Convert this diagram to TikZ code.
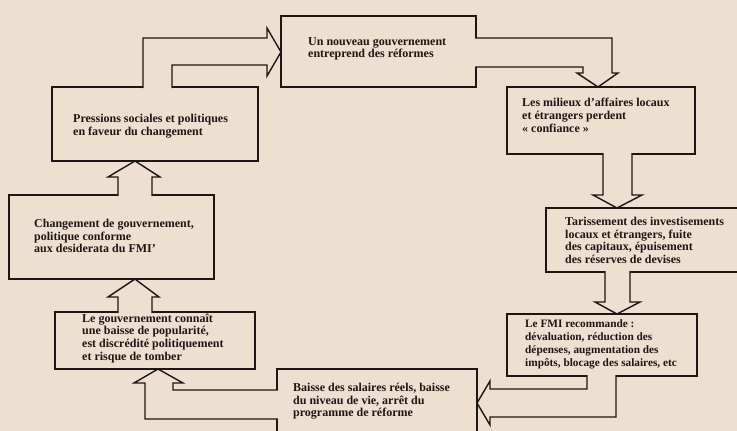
\documentclass[tikz,border=0pt]{standalone}
\usepackage{fontspec}
\setmainfont{Liberation Serif}
\usetikzlibrary{calc}
\definecolor{bgbeige}{RGB}{238,224,208}
\definecolor{inkline}{RGB}{28,22,20}
\begin{document}
\begin{tikzpicture}[x=1pt,y=-1pt,
  box/.style={draw=inkline, line width=1.4pt, rectangle, anchor=north west, inner sep=0pt, outer sep=0pt},
  txt/.style={anchor=north west, align=left, inner sep=0pt, text=inkline,
    font=\bfseries\fontsize{12}{12.7}\selectfont},
  fat/.style={draw=inkline, fill=bgbeige, line width=1.4pt, line join=miter}]
\fill[bgbeige] (0,0) rectangle (737,431);
\useasboundingbox (0,0) rectangle (737,431);
% boxes
\node[box, minimum width=195pt, minimum height=71pt] (nouv) at (281,16) {};
\node[box, minimum width=206pt, minimum height=74pt] (pres) at (52,87) {};
\node[box, minimum width=205pt, minimum height=84pt] (chg) at (9,195) {};
\node[box, minimum width=200pt, minimum height=57pt] (gov) at (55,312) {};
\node[box, minimum width=200pt, minimum height=80pt] (bai) at (277,369) {};
\node[box, minimum width=190pt, minimum height=62pt] (fmi) at (507,314) {};
\node[box, minimum width=210pt, minimum height=64pt] (tar) at (546,208) {};
\node[box, minimum width=188pt, minimum height=67pt] (mil) at (507,87) {};
% texts
\node[txt] (tnouv) at (308,37) {Un nouveau gouvernement\\entreprend des réformes};
\node[txt] (tpres) at (73,114) {Pressions sociales et politiques\\en faveur du changement};
\node[txt] (tmil) at (522,98) {Les milieux d’affaires locaux\\et étrangers perdent\\«~confiance~»};
\node[txt] (tchg) at (34,219) {Changement de gouvernement,\\politique conforme\\aux desiderata du FMI’};
\node[txt] (tgov) at (82,313.5) {Le gouvernement connaît\\une baisse de popularité,\\est discrédité politiquement\\et risque de tomber};
\node[txt] (tbai) at (293,383) {Baisse des salaires réels, baisse\\du niveau de vie, arrêt du\\programme de réforme};
\node[txt] (ttar) at (565,217) {Tarissement des investisements\\locaux et étrangers, fuite\\des capitaux, épuisement\\des réserves de devises};
\node[txt, font=\bfseries\fontsize{11.3}{13}\selectfont] (tfmi) at (525,319.5) {Le FMI recommande :\\dévaluation, réduction des\\dépenses, augmentation des\\impôts, blocage des salaires, etc};
% fat arrows
\filldraw[fat] ($(143,0|-pres.north)+(0,1)$) |- (267,38) -- (267,28) -- (nouv.west|-0,52)
  -- (267,76) -- (267,65) -| ($(172,0|-pres.north)+(0,1)$);
\filldraw[fat] ($(nouv.east|-0,38)+(-1,0)$) -| (612,73) -- (618,73) -- (598,0|-mil.north)
  -- (577,73) -- (583,73) |- ($(nouv.east|-0,67)+(-1,0)$);
\filldraw[fat] ($(603,0|-mil.south)+(0,-1)$) -- (603,195) -- (593,195) -- (617,0|-tar.north)
  -- (642,195) -- (632,195) -- ($(632,0|-mil.south)+(0,-1)$);
\filldraw[fat] ($(605,0|-tar.south)+(0,-1)$) -- (605,302) -- (595,302) -- (617,0|-fmi.north)
  -- (640,302) -- (630,302) -- ($(630,0|-tar.south)+(0,-1)$);
\filldraw[fat] ($(587,0|-fmi.south)+(0,-1)$) |- (490,389) -- (490,381) -- (bai.east|-0,403)
  -- (490,425) -- (490,417) -| ($(616,0|-fmi.south)+(0,-1)$);
\filldraw[fat] ($(bai.west|-0,390)+(1,0)$) -| (173,383) -- (183,383) -- (158,0|-gov.south)
  -- (134,383) -- (145,383) |- ($(bai.west|-0,419)+(1,0)$);
\filldraw[fat] ($(118,0|-gov.north)+(0,1)$) -- (118,297) -- (108,297) -- (135,0|-chg.south)
  -- (159,297) -- (152,297) -- ($(152,0|-gov.north)+(0,1)$);
\filldraw[fat] ($(118,0|-chg.north)+(0,1)$) -- (118,177) -- (108,177) -- (135,0|-pres.south)
  -- (160,177) -- (152,177) -- ($(152,0|-chg.north)+(0,1)$);
\end{tikzpicture}
\end{document}
